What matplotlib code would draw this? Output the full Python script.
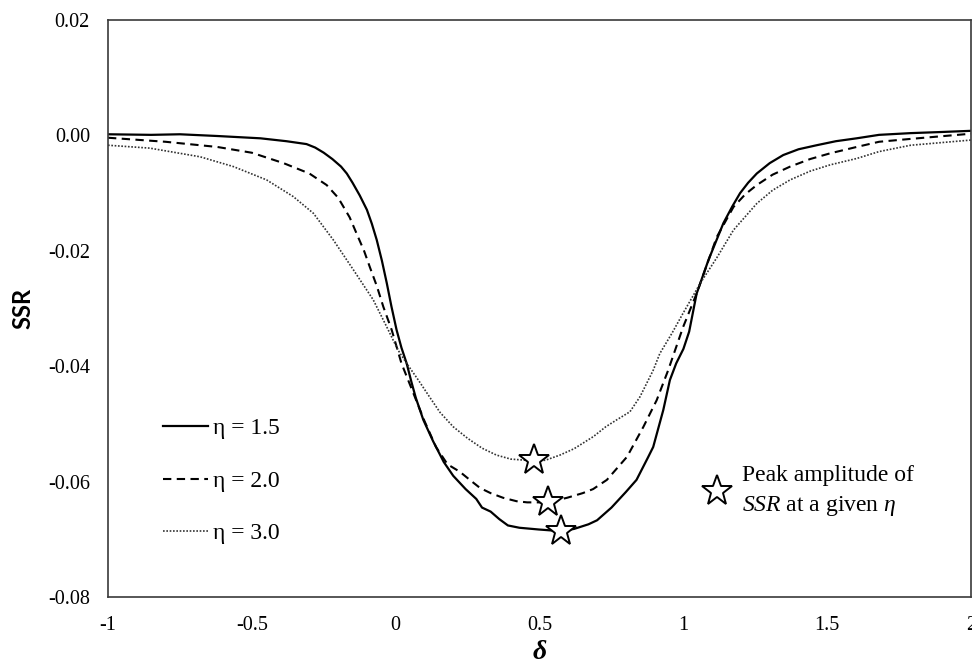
import matplotlib
matplotlib.use("Agg")
import matplotlib.pyplot as plt
from matplotlib.lines import Line2D

plt.rcParams["font.family"] = ["Liberation Serif", "DejaVu Serif"]
plt.rcParams["axes.unicode_minus"] = False
plt.rcParams["mathtext.fontset"] = "custom"
plt.rcParams["mathtext.rm"] = "Liberation Serif"
plt.rcParams["mathtext.it"] = "Liberation Serif:italic"

# eta = 1.5
delta_15 = [-1.0, -0.85, -0.75, -0.62, -0.47, -0.38, -0.31, -0.28, -0.25, -0.22,
            -0.19, -0.17, -0.15, -0.125, -0.10, -0.083, -0.066, -0.048, -0.031, -0.015,
            0.003, 0.02, 0.038, 0.055, 0.07, 0.096, 0.13, 0.167, 0.20,
            0.243, 0.28, 0.30, 0.33, 0.36, 0.39, 0.43, 0.497, 0.55, 0.575, 0.62,
            0.67, 0.70, 0.75, 0.80, 0.837, 0.877, 0.895, 0.93, 0.953, 0.975, 1.0,
            1.02, 1.046, 1.087, 1.139, 1.17, 1.197, 1.225, 1.255, 1.30, 1.347, 1.40,
            1.463, 1.53, 1.602, 1.68, 1.79, 1.9, 2.0]
ssr_15 = [0.0002, 0.0001, 0.0002, -0.0001, -0.0005, -0.0010, -0.0015, -0.0021, -0.0030, -0.0041,
          -0.0054, -0.0066, -0.0082, -0.0104, -0.0129, -0.0153, -0.0181, -0.0217, -0.0256, -0.0296,
          -0.0337, -0.0368, -0.0395, -0.0428, -0.0455, -0.0493, -0.0530, -0.0566, -0.0590,
          -0.0613, -0.0630, -0.0645, -0.0652, -0.0665, -0.0676, -0.0680, -0.0683, -0.0685, -0.0686, -0.0682,
          -0.0674, -0.0667, -0.0645, -0.0618, -0.0597, -0.0558, -0.0540, -0.0476, -0.0424, -0.0395, -0.0370,
          -0.0340, -0.0274, -0.0216, -0.0152, -0.0123, -0.0100, -0.0082, -0.0066, -0.0048, -0.0034, -0.0024,
          -0.0017, -0.0010, -0.0005, 0.0001, 0.0004, 0.0006, 0.0008]

# eta = 2.0
delta_20 = [-1.0, -0.8, -0.62, -0.5, -0.39, -0.3, -0.24, -0.2, -0.16, -0.136,
            -0.11, -0.09, -0.065, -0.043, -0.014, 0.02, 0.06, 0.10, 0.14, 0.18,
            0.223, 0.26, 0.293, 0.33, 0.373, 0.42, 0.457, 0.53, 0.596, 0.65,
            0.686, 0.734, 0.804, 0.861, 0.907, 0.947, 0.999, 1.046, 1.116, 1.174,
            1.215, 1.255, 1.31, 1.371, 1.44, 1.51, 1.602, 1.68, 1.79, 2.0]
ssr_20 = [-0.0004, -0.0011, -0.0020, -0.0030, -0.0048, -0.0066, -0.0086, -0.0108, -0.0142, -0.0170,
          -0.0200, -0.0228, -0.0262, -0.0297, -0.0337, -0.0395, -0.0445, -0.0495, -0.0540, -0.0570,
          -0.0583, -0.0598, -0.0611, -0.0620, -0.0628, -0.0634, -0.0636, -0.0636, -0.0628, -0.0620,
          -0.0613, -0.0597, -0.0557, -0.0505, -0.0459, -0.0407, -0.0332, -0.0274, -0.0176, -0.0124,
          -0.0102, -0.0086, -0.0068, -0.0054, -0.0041, -0.0031, -0.0020, -0.0011, -0.0006, 0.0003]

# eta = 3.0
delta_30 = [-1.0, -0.855, -0.68, -0.564, -0.449, -0.356, -0.286, -0.217, -0.147, -0.078,
            -0.031, 0.008, 0.038, 0.08, 0.12, 0.154, 0.2, 0.25, 0.3, 0.35,
            0.40, 0.48, 0.52, 0.571, 0.62, 0.687, 0.73, 0.768, 0.814, 0.849,
            0.895, 0.918, 0.96, 0.999, 1.06, 1.116, 1.174, 1.255, 1.31, 1.371, 1.44, 1.51,
            1.602, 1.68, 1.79, 2.0]
ssr_30 = [-0.0017, -0.0022, -0.0037, -0.0054, -0.0077, -0.0106, -0.0135, -0.0181, -0.0233, -0.0285,
          -0.0332, -0.0372, -0.0395, -0.0425, -0.0455, -0.0480, -0.0505, -0.0525, -0.0542, -0.0554,
          -0.0561, -0.0564, -0.0563, -0.0554, -0.0543, -0.0522, -0.0505, -0.0493, -0.0479, -0.0453,
          -0.0407, -0.0378, -0.0343, -0.0308, -0.0255, -0.0212, -0.0164, -0.0118, -0.0095, -0.0077,
          -0.0062, -0.0051, -0.0040, -0.0028, -0.0017, -0.0008]

# peak amplitude locations
peak_delta = [0.575, 0.53, 0.48]
peak_ssr = [-0.0686, -0.0636, -0.0563]

series_labels = ["η = 1.5", "η = 2.0", "η = 3.0"]
x_ticks = [-1, -0.5, 0, 0.5, 1, 1.5, 2]
x_ticklabels = ["-1", "-0.5", "0", "0.5", "1", "1.5", "2"]
y_ticks = [-0.08, -0.06, -0.04, -0.02, 0.00, 0.02]
y_ticklabels = ["-0.08", "-0.06", "-0.04", "-0.02", "0.00", "0.02"]

fig = plt.figure(figsize=(9.72, 6.68), dpi=100)
ax = fig.add_axes([0.1111, 0.1063, 0.8880, 0.8637])

l1, = ax.plot(delta_15, ssr_15, color="black", lw=1.6, ls="-")
l2, = ax.plot(delta_20, ssr_20, color="black", lw=1.5, ls=(0, (4, 2.6)))
l3, = ax.plot(delta_30, ssr_30, color="#333333", lw=1.2, ls=(0, (1, 1)))

ax.plot(peak_delta, peak_ssr, ls="none", marker="*", markersize=23,
        markerfacecolor="white", markeredgecolor="black", markeredgewidth=1.4, zorder=5)

ax.set_xlim(-1, 2)
ax.set_ylim(-0.08, 0.02)
ax.set_xticks(x_ticks)
ax.set_xticklabels(x_ticklabels)
ax.set_yticks(y_ticks)
ax.set_yticklabels(y_ticklabels)
ax.tick_params(length=0, labelsize=14.5, colors="black")
ax.tick_params(axis="y", pad=13)
ax.tick_params(axis="x", pad=14)
for s in ax.spines.values():
    s.set_color("#3a3a3a")
    s.set_linewidth(1.2)

ax.set_xlabel("δ", fontsize=20, fontweight="bold", style="italic", labelpad=3)
ax.set_ylabel("SSR", fontsize=17, fontweight="bold", family=["Lato", "DejaVu Sans"], labelpad=10)

leg1 = ax.legend([l1, l2, l3], series_labels, loc="center left",
                 bbox_to_anchor=(0.0637, 0.201), frameon=False, fontsize=17,
                 handlelength=1.9, handletextpad=0.2, labelspacing=1.32,
                 borderpad=0, borderaxespad=0)
ax.add_artist(leg1)

star_handle = Line2D([], [], ls="none", marker="*", markersize=23,
                     markerfacecolor="white", markeredgecolor="black", markeredgewidth=1.4)
leg2 = ax.legend([star_handle], ["Peak amplitude of\n$SSR$ at a given $\\eta$"], loc="center left",
                 bbox_to_anchor=(0.689, 0.183), frameon=False, fontsize=17,
                 handlelength=1.2, handletextpad=0.45, borderpad=0, borderaxespad=0)
for t in leg2.get_texts():
    t.set_linespacing(1.45)

fig.savefig("out.png", dpi=100)
